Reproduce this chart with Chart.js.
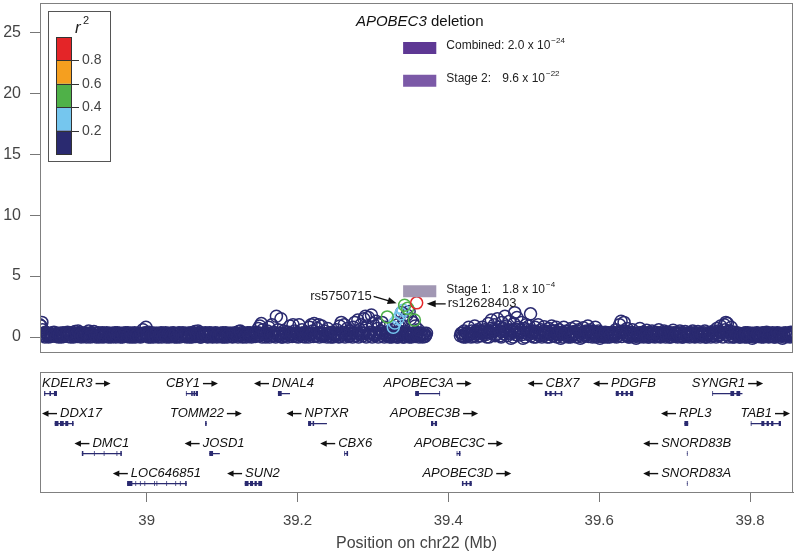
<!DOCTYPE html>
<html>
<head>
<meta charset="utf-8">
<script src="https://cdn.jsdelivr.net/npm/chart.js@4.4.0/dist/chart.umd.min.js"></script>
<style>
  html, body { margin: 0; padding: 0; background: #fff; }
  #wrap { position: relative; width: 800px; height: 554px; }
  #top { position: absolute; left: 0; top: 0; width: 800px; height: 360px; }
  #bot { position: absolute; left: 0; top: 362px; width: 800px; height: 192px; }
</style>
</head>
<body>
<div id="wrap">
  <div id="top"><canvas id="assoc"></canvas></div>
  <div id="bot"><canvas id="genes"></canvas></div>
</div>
<script>
// ---- data ----
const X_MIN = 38.8585, X_MAX = 39.857;
const yTicks = [0, 5, 10, 15, 20, 25];
const xTicks = [39, 39.2, 39.4, 39.6, 39.8];

// r2 classes, top to bottom of the colour bar
const r2Colors = ['#e42528', '#f59f1f', '#4fb148', '#75c6ee', '#2a2a70'];
const r2Breaks = ['0.8', '0.6', '0.4', '0.2'];

// [position (Mb), -log10 p]
const redSnps = [[39.358, 2.8]];
const greenSnps = [[39.319, 1.65], [39.342, 2.6], [39.346, 2.35], [39.355, 1.4]];
const blueSnps = [[39.327, 0.8], [39.329, 1.15], [39.333, 1.5], [39.337, 1.9], [39.340, 2.2]];
const navySnps = [
  [38.858,1.0],[38.860,0.9],[38.861,1.2],[38.862,0.6],[38.863,0.3],[38.864,0.1],[38.866,0.4],[38.868,0.2],
  [38.870,0.0],[38.872,0.3],[38.874,0.1],[38.876,0.35],[38.878,0.15],[38.880,0.05],[38.882,0.3],[38.884,0.2],
  [38.887,0.0],[38.889,0.35],[38.891,0.1],[38.894,0.25],[38.896,0.05],[38.898,0.3],[38.901,0.15],[38.903,0.0],
  [38.905,0.45],[38.907,0.2],[38.909,0.5],[38.912,0.1],[38.914,0.3],[38.916,0.05],[38.918,0.35],[38.921,0.2],
  [38.923,0.5],[38.925,0.0],[38.927,0.3],[38.930,0.45],[38.932,0.1],[38.934,0.3],[38.937,0.0],[38.939,0.2],
  [38.941,0.35],[38.944,0.05],[38.946,0.25],[38.948,0.1],[38.951,0.3],[38.953,0.0],[38.955,0.2],[38.958,0.35],
  [38.960,0.1],[38.962,0.25],[38.965,0.0],[38.967,0.3],[38.969,0.15],[38.972,0.35],[38.974,0.05],[38.976,0.2],
  [38.979,0.3],[38.981,0.0],[38.983,0.25],[38.986,0.1],[38.988,0.3],[38.990,0.05],[38.993,0.2],[38.995,0.6],
  [38.997,0.3],[38.999,0.8],[39.001,0.1],[39.003,0.4],[39.005,0.0],[39.008,0.25],[39.010,0.15],[39.012,0.3],
  [39.015,0.0],[39.017,0.2],[39.019,0.35],[39.022,0.1],[39.024,0.25],[39.026,0.0],[39.029,0.3],[39.031,0.15],
  [39.033,0.05],[39.036,0.3],[39.038,0.2],[39.040,0.0],[39.043,0.35],[39.045,0.1],[39.047,0.25],[39.050,0.05],
  [39.052,0.3],[39.054,0.15],[39.057,0.0],[39.059,0.25],[39.061,0.1],[39.064,0.45],[39.066,0.2],[39.068,0.5],
  [39.071,0.0],[39.073,0.3],[39.075,0.15],[39.078,0.35],[39.080,0.05],[39.082,0.2],[39.085,0.3],[39.087,0.0],
  [39.089,0.25],[39.092,0.1],[39.094,0.3],[39.096,0.05],[39.099,0.2],[39.101,0.35],[39.103,0.0],[39.106,0.25],
  [39.108,0.1],[39.110,0.3],[39.113,0.05],[39.115,0.2],[39.117,0.35],[39.120,0.1],[39.122,0.45],[39.124,0.5],
  [39.127,0.0],[39.129,0.3],[39.131,0.15],[39.134,0.35],[39.136,0.05],[39.138,0.2],[39.141,0.3],[39.143,0.1],
  [39.145,0.4],[39.148,0.7],[39.150,0.9],[39.152,1.1],[39.154,0.6],[39.156,0.3],[39.158,0.0],[39.160,0.5],
  [39.162,0.8],[39.164,0.2],[39.166,1.0],[39.168,0.4],[39.170,0.1],[39.172,1.7],[39.174,0.6],[39.176,0.3],
  [39.178,1.5],[39.180,0.0],[39.182,0.5],[39.184,0.25],[39.186,0.1],[39.188,0.4],[39.190,0.9],[39.192,0.2],
  [39.194,1.0],[39.196,0.5],[39.198,0.05],[39.200,0.3],[39.202,1.0],[39.204,0.15],[39.206,0.6],[39.208,0.35],
  [39.210,0.0],[39.212,0.4],[39.214,0.2],[39.216,0.8],[39.218,1.0],[39.220,0.5],[39.222,1.1],[39.224,0.1],
  [39.226,0.7],[39.228,1.0],[39.230,0.3],[39.232,0.9],[39.234,0.05],[39.236,0.5],[39.238,0.2],[39.240,0.7],
  [39.242,0.35],[39.244,0.0],[39.246,0.4],[39.248,0.15],[39.250,0.3],[39.252,0.6],[39.254,0.05],[39.256,0.9],
  [39.258,1.2],[39.260,0.4],[39.262,1.0],[39.264,0.2],[39.266,0.7],[39.268,0.05],[39.270,0.5],[39.272,0.3],
  [39.274,0.8],[39.276,1.2],[39.278,0.1],[39.280,1.4],[39.282,0.6],[39.284,1.0],[39.286,0.3],[39.288,1.5],
  [39.290,1.7],[39.292,0.9],[39.294,1.6],[39.296,0.4],[39.298,1.8],[39.300,1.1],[39.302,0.2],[39.304,1.3],
  [39.306,0.7],[39.308,1.0],[39.310,0.5],[39.312,1.2],[39.314,0.3],[39.316,0.8],[39.318,0.1],[39.320,0.4],
  [39.322,0.0],[39.324,0.3],[39.326,0.6],[39.328,0.1],[39.330,0.35],[39.332,0.0],[39.334,0.25],[39.336,0.1],
  [39.338,0.4],[39.340,0.0],[39.342,0.3],[39.344,0.15],[39.346,0.35],[39.348,0.0],[39.350,0.25],[39.352,0.1],
  [39.354,0.3],[39.356,0.05],[39.358,0.2],[39.360,0.35],[39.362,0.1],[39.364,0.25],[39.366,0.0],[39.368,0.3],
  [39.370,0.15],
  [39.333,1.0],[39.336,0.8],[39.338,2.0],[39.341,1.4],[39.345,1.8],[39.348,2.1],[39.350,1.5],[39.353,1.2],
  [39.356,0.9],[39.360,0.6],
  [39.417,0.3],[39.419,0.1],[39.421,0.5],[39.423,0.0],[39.425,0.35],[39.427,0.8],[39.429,0.2],[39.431,0.5],
  [39.433,0.05],[39.435,0.9],[39.437,0.3],[39.439,0.6],[39.441,0.1],[39.443,0.4],[39.445,0.8],[39.447,0.2],
  [39.449,0.5],[39.451,0.0],[39.453,1.1],[39.455,0.35],[39.457,1.4],[39.459,0.6],[39.461,1.0],[39.463,0.2],
  [39.465,1.5],[39.467,0.8],[39.469,0.1],[39.471,1.2],[39.473,0.5],[39.475,1.7],[39.477,0.9],[39.479,0.3],
  [39.481,1.3],[39.483,-0.1],[39.485,0.6],[39.487,1.1],[39.488,2.0],[39.489,0.2],[39.491,1.6],[39.493,0.8],
  [39.495,0.4],[39.497,1.2],[39.499,-0.1],[39.501,0.7],[39.503,1.0],[39.505,0.3],[39.507,0.9],[39.509,1.9],
  [39.511,0.5],[39.513,0.0],[39.515,0.8],[39.517,0.3],[39.519,1.0],[39.521,0.1],[39.523,0.6],[39.525,0.2],
  [39.527,0.85],[39.529,0.4],[39.531,0.0],[39.533,0.7],[39.535,0.3],[39.537,0.9],[39.539,0.1],[39.541,0.5],
  [39.543,0.8],[39.545,0.25],[39.547,0.6],[39.549,-0.1],[39.551,0.4],[39.553,0.8],[39.555,0.15],[39.557,0.5],
  [39.559,0.0],[39.561,0.35],[39.563,0.7],[39.565,0.1],[39.567,0.45],[39.569,0.85],[39.571,0.2],[39.573,0.6],
  [39.575,-0.1],[39.577,0.3],[39.579,0.75],[39.581,0.1],[39.583,0.5],[39.585,0.9],[39.587,0.25],[39.589,0.6],
  [39.591,0.0],[39.593,0.4],[39.595,0.8],[39.597,0.15],[39.599,0.5],[39.601,-0.1],[39.604,0.3],[39.606,0.1],
  [39.608,0.4],[39.611,0.0],[39.613,0.3],[39.615,0.15],[39.618,0.4],[39.620,0.05],[39.622,0.6],[39.625,0.3],
  [39.627,1.0],[39.629,1.3],[39.631,0.5],[39.633,1.2],[39.635,0.2],[39.637,0.7],[39.640,0.0],[39.642,0.4],
  [39.644,0.6],[39.647,0.15],[39.649,-0.1],[39.651,0.3],[39.654,0.7],[39.656,0.05],[39.658,0.4],[39.661,0.2],
  [39.663,0.55],[39.665,0.0],[39.668,0.35],[39.670,0.5],[39.672,0.1],[39.675,0.4],[39.677,0.25],[39.679,0.6],
  [39.682,0.05],[39.684,0.35],[39.686,0.5],[39.689,0.15],[39.691,0.4],[39.693,0.0],[39.696,0.3],[39.698,0.55],
  [39.700,0.1],[39.703,0.35],[39.705,0.2],[39.707,0.5],[39.710,0.0],[39.712,0.3],[39.714,0.45],[39.717,0.1],
  [39.719,0.35],[39.721,0.2],[39.724,0.5],[39.726,0.05],[39.728,0.3],[39.731,0.45],[39.733,0.1],[39.735,0.35],
  [39.738,0.2],[39.740,0.5],[39.742,0.0],[39.745,0.3],[39.747,0.4],[39.749,0.15],[39.752,0.5],[39.754,0.3],
  [39.756,0.7],[39.759,0.1],[39.761,0.9],[39.763,0.4],[39.766,1.0],[39.768,1.2],[39.770,1.1],[39.773,0.5],
  [39.775,0.8],[39.777,0.0],[39.780,0.4],[39.782,0.2],[39.784,0.3],[39.787,0.0],[39.789,0.25],[39.791,0.1],
  [39.794,0.35],[39.796,0.0],[39.798,0.2],[39.801,0.3],[39.803,-0.1],[39.805,0.25],[39.808,0.05],[39.810,0.3],
  [39.812,0.15],[39.815,0.0],[39.817,0.35],[39.819,0.2],[39.822,0.4],[39.824,0.05],[39.826,0.3],[39.829,0.1],
  [39.831,0.25],[39.833,0.0],[39.836,0.35],[39.838,0.15],[39.840,0.3],[39.843,-0.1],[39.845,0.2],[39.847,0.35],
  [39.850,0.05],[39.852,0.25],[39.854,0.4],[39.856,0.1]
];
// the dense low band of weakly associated SNPs
const navyBandSnps = [
  [38.859,0.2],[38.865,0.0],[38.867,0.3],[38.869,0.1],[38.871,0.25],[38.873,0.05],[38.875,0.2],[38.877,0.4],
  [38.879,0.1],[38.881,0.25],[38.883,0.0],[38.885,0.3],[38.886,0.1],[38.888,0.2],[38.890,0.05],[38.892,0.3],
  [38.893,0.15],[38.895,0.4],[38.897,0.2],[38.899,0.0],[38.900,0.35],[38.902,0.25],[38.904,0.1],[38.906,0.3],
  [38.908,0.05],[38.910,0.25],[38.911,0.35],[38.913,0.0],[38.915,0.2],[38.917,0.1],[38.919,0.3],[38.920,0.0],
  [38.922,0.25],[38.924,0.15],[38.926,0.35],[38.928,0.05],[38.929,0.2],[38.931,0.3],[38.933,0.0],[38.935,0.15],
  [38.936,0.35],[38.938,0.1],[38.940,0.25],[38.942,0.0],[38.943,0.3],[38.945,0.15],[38.947,0.35],[38.949,0.0],
  [38.950,0.2],[38.952,0.1],[38.954,0.3],[38.956,0.05],[38.957,0.25],[38.959,0.0],[38.961,0.35],[38.963,0.1],
  [38.964,0.3],[38.966,0.2],[38.968,0.0],[38.970,0.3],[38.971,0.1],[38.973,0.2],[38.975,0.35],[38.977,0.0],
  [38.978,0.15],[38.980,0.3],[38.982,0.1],[38.984,0.35],[38.985,0.0],[38.987,0.2],[38.989,0.1],[38.991,0.3],
  [38.992,0.0],[38.994,0.25],[38.996,0.1],[38.998,0.35],[39.000,0.2],[39.002,0.0],[39.004,0.3],[39.006,0.15],
  [39.007,0.35],[39.009,0.0],[39.011,0.25],[39.013,0.1],[39.014,0.3],[39.016,0.05],[39.018,0.2],[39.020,0.0],
  [39.021,0.3],[39.023,0.15],[39.025,0.35],[39.027,0.1],[39.028,0.2],[39.030,0.0],[39.032,0.3],[39.034,0.15],
  [39.035,0.35],[39.037,0.0],[39.039,0.25],[39.041,0.1],[39.042,0.3],[39.044,0.0],[39.046,0.2],[39.048,0.35],
  [39.049,0.1],[39.051,0.25],[39.053,0.0],[39.055,0.3],[39.056,0.1],[39.058,0.35],[39.060,0.0],[39.062,0.2],
  [39.063,0.3],[39.065,0.05],[39.067,0.25],[39.069,0.1],[39.070,0.35],[39.072,0.0],[39.074,0.2],[39.076,0.3],
  [39.077,0.1],[39.079,0.25],[39.081,0.0],[39.083,0.35],[39.084,0.15],[39.086,0.3],[39.088,0.05],[39.090,0.2],
  [39.091,0.35],[39.093,0.0],[39.095,0.25],[39.097,0.15],[39.098,0.3],[39.100,0.0],[39.102,0.2],[39.104,0.1],
  [39.105,0.35],[39.107,0.0],[39.109,0.25],[39.111,0.15],[39.112,0.3],[39.114,0.0],[39.116,0.2],[39.118,0.1],
  [39.119,0.3],[39.121,0.0],[39.123,0.25],[39.125,0.15],[39.126,0.35],[39.128,0.05],[39.130,0.2],[39.132,0.0],
  [39.133,0.3],[39.135,0.1],[39.137,0.35],[39.139,0.0],[39.140,0.2],[39.142,0.3],[39.144,0.05],[39.146,0.2],
  [39.147,0.35],[39.149,0.1],[39.151,0.3],[39.153,0.0],[39.155,0.2],[39.157,0.35],[39.159,0.1],[39.161,0.25],
  [39.163,0.0],[39.165,0.3],[39.167,0.15],[39.169,0.35],[39.171,0.0],[39.173,0.2],[39.175,0.1],[39.177,0.3],
  [39.179,0.0],[39.181,0.25],[39.183,0.1],[39.185,0.35],[39.187,0.0],[39.189,0.2],[39.191,0.3],[39.193,0.05],
  [39.195,0.25],[39.197,0.15],[39.199,0.35],[39.201,0.0],[39.203,0.2],[39.205,0.3],[39.207,0.05],[39.209,0.25],
  [39.211,0.15],[39.213,0.35],[39.215,0.0],[39.217,0.2],[39.219,0.3],[39.221,0.05],[39.223,0.25],[39.225,0.1],
  [39.227,0.35],[39.229,0.0],[39.231,0.2],[39.233,0.3],[39.235,0.1],[39.237,0.25],[39.239,0.0],[39.241,0.3],
  [39.243,0.15],[39.245,0.35],[39.247,0.0],[39.249,0.2],[39.251,0.1],[39.253,0.3],[39.255,0.0],[39.257,0.25],
  [39.259,0.15],[39.261,0.35],[39.263,0.0],[39.265,0.2],[39.267,0.3],[39.269,0.1],[39.271,0.25],[39.273,0.0],
  [39.275,0.35],[39.277,0.15],[39.279,0.3],[39.281,0.0],[39.283,0.2],[39.285,0.35],[39.287,0.1],[39.289,0.3],
  [39.291,0.0],[39.293,0.25],[39.295,0.15],[39.297,0.35],[39.299,0.0],[39.301,0.3],[39.303,0.1],[39.305,0.25],
  [39.307,0.0],[39.309,0.35],[39.311,0.15],[39.313,0.3],[39.315,0.0],[39.317,0.2],[39.319,0.1],[39.321,0.3],
  [39.323,0.15],[39.325,0.0],[39.327,0.25],[39.329,0.1],[39.331,0.3],[39.333,0.0],[39.335,0.2],[39.337,0.15],
  [39.339,0.3],[39.341,0.0],[39.343,0.25],[39.345,0.1],[39.347,0.2],[39.349,0.3],[39.351,0.0],[39.353,0.2],
  [39.355,0.35],[39.357,0.1],[39.359,0.25],[39.361,0.0],[39.363,0.3],[39.365,0.15],[39.367,0.2],[39.369,0.05],
  [39.371,0.3],
  [39.416,0.1],[39.418,0.3],[39.420,0.0],[39.422,0.2],[39.424,0.35],[39.426,0.1],[39.428,0.25],[39.430,0.0],
  [39.432,0.3],[39.434,0.15],[39.436,0.45],[39.438,0.0],[39.440,0.3],[39.442,0.5],[39.444,0.1],[39.446,0.35],
  [39.448,0.6],[39.450,0.2],[39.452,0.4],[39.454,0.0],[39.456,0.7],[39.458,0.3],[39.460,0.5],[39.462,0.1],
  [39.464,0.6],[39.466,0.3],[39.468,0.5],[39.470,0.0],[39.472,0.7],[39.474,0.25],[39.476,0.45],[39.478,0.1],
  [39.480,0.6],[39.482,0.3],[39.484,0.5],[39.486,0.0],[39.488,0.4],[39.490,0.6],[39.492,0.15],[39.494,0.35],
  [39.496,0.55],[39.498,0.2],[39.500,0.4],[39.502,0.0],[39.504,0.6],[39.506,0.2],[39.508,0.45],[39.510,0.1],
  [39.512,0.3],[39.514,0.5],[39.516,0.0],[39.518,0.4],[39.520,0.2],[39.522,0.35],[39.524,0.0],[39.526,0.5],
  [39.528,0.15],[39.530,0.3],[39.532,0.45],[39.534,0.0],[39.536,0.25],[39.538,0.5],[39.540,0.1],[39.542,0.3],
  [39.544,0.0],[39.546,0.4],[39.548,0.2],[39.550,0.35],[39.552,0.0],[39.554,0.3],[39.556,0.45],[39.558,0.1],
  [39.560,0.25],[39.562,0.0],[39.564,0.4],[39.566,0.2],[39.568,0.3],[39.570,0.0],[39.572,0.45],[39.574,0.15],
  [39.576,0.3],[39.578,0.0],[39.580,0.4],[39.582,0.2],[39.584,0.35],[39.586,0.05],[39.588,0.3],[39.590,0.45],
  [39.592,0.1],[39.594,0.25],[39.596,0.0],[39.598,0.35],[39.600,0.2],[39.602,0.4],[39.603,0.05],[39.605,0.25],
  [39.607,0.0],[39.609,0.3],[39.610,0.15],[39.612,0.35],[39.614,0.0],[39.616,0.2],[39.617,0.3],[39.619,0.1],
  [39.621,0.25],[39.623,0.0],[39.624,0.35],[39.626,0.15],[39.628,0.4],[39.630,0.05],[39.632,0.3],[39.634,0.5],
  [39.636,0.1],[39.638,0.3],[39.639,0.0],[39.641,0.25],[39.643,0.1],[39.645,0.35],[39.646,0.0],[39.648,0.3],
  [39.650,0.15],[39.652,0.0],[39.653,0.35],[39.655,0.2],[39.657,0.3],[39.659,0.0],[39.660,0.25],[39.662,0.1],
  [39.664,0.35],[39.666,0.0],[39.667,0.2],[39.669,0.3],[39.671,0.05],[39.673,0.25],[39.674,0.0],[39.676,0.35],
  [39.678,0.1],[39.680,0.3],[39.681,0.0],[39.683,0.2],[39.685,0.1],[39.687,0.35],[39.688,0.0],[39.690,0.25],
  [39.692,0.15],[39.694,0.3],[39.695,0.0],[39.697,0.2],[39.699,0.35],[39.701,0.05],[39.702,0.25],[39.704,0.0],
  [39.706,0.3],[39.708,0.1],[39.709,0.35],[39.711,0.0],[39.713,0.2],[39.715,0.3],[39.716,0.05],[39.718,0.25],
  [39.720,0.0],[39.722,0.35],[39.723,0.1],[39.725,0.3],[39.727,0.0],[39.729,0.2],[39.730,0.1],[39.732,0.3],
  [39.734,0.0],[39.736,0.25],[39.737,0.1],[39.739,0.35],[39.741,0.0],[39.743,0.2],[39.744,0.15],[39.746,0.3],
  [39.748,0.0],[39.750,0.25],[39.751,0.1],[39.753,0.35],[39.755,0.0],[39.757,0.3],[39.758,0.5],[39.760,0.2],
  [39.762,0.4],[39.764,0.0],[39.765,0.3],[39.767,0.6],[39.769,0.2],[39.771,0.4],[39.772,0.0],[39.774,0.3],
  [39.776,0.15],[39.778,0.35],[39.779,0.0],[39.781,0.2],[39.783,0.1],[39.785,0.3],[39.786,0.0],[39.788,0.25],
  [39.790,0.1],[39.792,0.3],[39.793,0.0],[39.795,0.2],[39.797,0.35],[39.799,0.05],[39.800,0.25],[39.802,0.1],
  [39.804,0.3],[39.806,0.0],[39.807,0.2],[39.809,0.35],[39.811,0.05],[39.813,0.25],[39.814,0.1],[39.816,0.3],
  [39.818,0.0],[39.820,0.2],[39.821,0.1],[39.823,0.3],[39.825,0.0],[39.827,0.25],[39.828,0.1],[39.830,0.35],
  [39.832,0.0],[39.834,0.2],[39.835,0.1],[39.837,0.3],[39.839,0.0],[39.841,0.25],[39.842,0.1],[39.844,0.3],
  [39.846,0.0],[39.848,0.2],[39.849,0.1],[39.851,0.3],[39.853,0.0],[39.855,0.2],[39.857,0.3]
];

// labelled SNPs: [name, position, -log10 p]
const labelledSnps = [['rs5750715', 39.342, 2.6], ['rs12628403', 39.358, 2.8]];

// APOBEC3 deletion association
const DEL_START = 39.340, DEL_END = 39.384;
const delStages = ['Combined:', 'Stage 2:', 'Stage 1:'];
const delMantissa = ['2.0', '9.6', '1.8'];
const delExponent = [-24, -22, -4];
const delColors = ['#5e3894', '#7b59a7', '#a197b3'];

// genes
const geneNames = ['KDELR3','CBY1','DNAL4','APOBEC3A','CBX7','PDGFB','SYNGR1',
  'DDX17','TOMM22','NPTXR','APOBEC3B','RPL3','TAB1',
  'DMC1','JOSD1','CBX6','APOBEC3C','SNORD83B',
  'LOC646851','SUN2','APOBEC3D','SNORD83A'];
const geneStrand = ['+','+','-','+','-','-','+', '-','+','-','+','-','+', '-','-','-','+','-', '-','-','+','-'];
const geneRow = [0,0,0,0,0,0,0, 1,1,1,1,1,1, 2,2,2,2,2, 3,3,3,3];
const geneStart = [38.864,39.052,39.174,39.356,39.528,39.622,39.750, 38.878,39.0775,39.214,39.377,39.713,39.801,
  38.914,39.083,39.262,39.411,39.7163, 38.974,39.130,39.418,39.7163];
const geneEnd = [38.881,39.068,39.190,39.389,39.551,39.645,39.790, 38.903,39.0795,39.239,39.385,39.718,39.841,
  38.967,39.097,39.267,39.416,39.7172, 39.053,39.153,39.431,39.7172];
const geneExons = [
  [[38.864,38.8655],[38.871,38.873],[38.877,38.881]],
  [[39.052,39.053],[39.059,39.061],[39.062,39.064],[39.065,39.068]],
  [[39.174,39.179],[39.189,39.190]],
  [[39.356,39.361],[39.388,39.389]],
  [[39.528,39.531],[39.534,39.537],[39.541,39.543],[39.549,39.551]],
  [[39.622,39.626],[39.629,39.632],[39.635,39.638],[39.641,39.645]],
  [[39.750,39.751],[39.763,39.764],[39.774,39.779],[39.782,39.787]],
  [[38.878,38.883],[38.885,38.890],[38.892,38.896],[38.901,38.903]],
  [[39.0775,39.0795]],
  [[39.214,39.218],[39.220,39.222],[39.238,39.239]],
  [[39.377,39.380],[39.382,39.385]],
  [[39.713,39.718]],
  [[39.801,39.802],[39.815,39.819],[39.822,39.825],[39.828,39.831],[39.838,39.841]],
  [[38.914,38.916],[38.930,38.931],[38.943,38.944],[38.950,38.951],[38.954,38.955],[38.960,38.961],[38.965,38.967]],
  [[39.083,39.088],[39.096,39.097]],
  [[39.262,39.263],[39.265,39.267]],
  [[39.411,39.412],[39.414,39.416]],
  [[39.7163,39.7172]],
  [[38.974,38.981],[38.985,38.986],[38.991,38.992],[38.997,38.998],[39.010,39.011],[39.013,39.014],
   [39.019,39.020],[39.026,39.027],[39.031,39.032],[39.038,39.039],[39.044,39.045],[39.051,39.053]],
  [[39.130,39.135],[39.137,39.141],[39.143,39.146],[39.148,39.153]],
  [[39.418,39.420],[39.423,39.425],[39.428,39.431]],
  [[39.7163,39.7172]]
];

// ---- drawing ----
const FONT = "'Liberation Sans', Arial, sans-serif";
const NAVY = r2Colors[4];
const ROW_OFF = 0.72;

const toXY = arr => arr.map(([x, y]) => ({ x, y }));
const delLogP = delMantissa.map((m, i) => -Math.log10(parseFloat(m)) - delExponent[i]);

function snpSet(arr, color) {
  return {
    data: toXY(arr), pointRadius: 6, pointHoverRadius: 6, pointBorderWidth: 1.5,
    pointBorderColor: color, pointBackgroundColor: 'rgba(255,255,255,0)'
  };
}

function arrowHead(ctx, x0, y0, x1, y1, len, half) {
  const ang = Math.atan2(y1 - y0, x1 - x0);
  ctx.beginPath();
  ctx.moveTo(x0, y0);
  ctx.lineTo(x1 - Math.cos(ang) * len * 0.6, y1 - Math.sin(ang) * len * 0.6);
  ctx.stroke();
  ctx.beginPath();
  ctx.moveTo(x1, y1);
  ctx.lineTo(x1 - Math.cos(ang) * len - Math.sin(ang) * half, y1 - Math.sin(ang) * len + Math.cos(ang) * half);
  ctx.lineTo(x1 - Math.cos(ang) * len + Math.sin(ang) * half, y1 - Math.sin(ang) * len - Math.cos(ang) * half);
  ctx.closePath();
  ctx.fill();
}

// strip the label overhang padding so the plot box sits where we put it
function fixAxis(size) {
  return s => {
    if (s.isHorizontal()) s.height = size; else s.width = size;
    s.paddingTop = 0; s.paddingBottom = 0; s.paddingLeft = 0; s.paddingRight = 0;
  };
}

const frame = {
  id: 'frame',
  afterDraw(chart) {
    const { ctx, chartArea: a } = chart;
    ctx.save();
    ctx.strokeStyle = '#808080';
    ctx.lineWidth = 1;
    ctx.strokeRect(Math.round(a.left) + 0.5, Math.round(a.top) + 0.5, Math.round(a.right - a.left) - 1, Math.round(a.bottom - a.top));
    ctx.restore();
  }
};

const r2Legend = {
  id: 'r2Legend',
  afterDatasetsDraw(chart) {
    const { ctx, chartArea: a } = chart;
    const bx = a.left + 8, by = a.top + 8;
    ctx.save();
    ctx.fillStyle = '#fff';
    ctx.fillRect(bx, by, 62, 150);
    ctx.strokeStyle = '#555';
    ctx.lineWidth = 1;
    ctx.strokeRect(bx + 0.5, by + 0.5, 62, 150);
    const barX = bx + 8, barTop = by + 26, segH = 23.4;
    r2Colors.forEach((c, i) => {
      ctx.fillStyle = c;
      ctx.fillRect(barX, barTop + i * segH, 15, segH);
    });
    ctx.strokeStyle = '#333';
    ctx.strokeRect(barX + 0.5, barTop + 0.5, 15, segH * 5);
    ctx.font = `14px ${FONT}`;
    ctx.fillStyle = '#444';
    ctx.textBaseline = 'middle';
    r2Breaks.forEach((t, i) => {
      const yy = Math.round(barTop + (i + 1) * segH) + 0.5;
      ctx.beginPath();
      ctx.moveTo(barX, yy);
      ctx.lineTo(barX + 23, yy);
      ctx.stroke();
      ctx.fillText(t, barX + 26, yy);
    });
    ctx.fillStyle = '#222';
    ctx.font = `italic 17px ${FONT}`;
    ctx.fillText('r', bx + 27, by + 17);
    ctx.font = `11px ${FONT}`;
    ctx.fillText('2', bx + 35, by + 10);
    ctx.restore();
  }
};

const annotations = {
  id: 'annotations',
  afterDatasetsDraw(chart) {
    const { ctx, scales: { x, y } } = chart;
    ctx.save();
    // title centred over the deletion
    const cx = (x.getPixelForValue(DEL_START) + x.getPixelForValue(DEL_END)) / 2;
    ctx.textBaseline = 'middle';
    ctx.fillStyle = '#111';
    ctx.font = `italic 15px ${FONT}`;
    const w1 = ctx.measureText('APOBEC3').width;
    ctx.font = `15px ${FONT}`;
    const w2 = ctx.measureText(' deletion').width;
    const tx = cx - (w1 + w2) / 2;
    ctx.font = `italic 15px ${FONT}`;
    ctx.fillText('APOBEC3', tx, 22);
    ctx.font = `15px ${FONT}`;
    ctx.fillText(' deletion', tx + w1, 22);

    // stage p-values
    const tabs = [null, 56, 56];
    delStages.forEach((s, i) => {
      const lx = x.getPixelForValue(DEL_END) + 10;
      const ly = y.getPixelForValue(delLogP[i]) - 2;
      ctx.font = `12px ${FONT}`;
      ctx.fillStyle = '#222';
      ctx.fillText(s, lx, ly);
      const vx = tabs[i] === null ? lx + ctx.measureText(s + ' ').width : lx + tabs[i];
      const val = delMantissa[i] + ' x 10';
      ctx.fillText(val, vx, ly);
      const ex = vx + ctx.measureText(val).width + 1;
      ctx.font = `8px ${FONT}`;
      ctx.fillText('\u2212' + Math.abs(delExponent[i]), ex, ly - 5);
    });

    // labelled SNPs with arrows
    ctx.font = `13px ${FONT}`;
    ctx.strokeStyle = '#111';
    ctx.lineWidth = 1.3;
    const [a, b] = labelledSnps;
    let px = x.getPixelForValue(a[1]), py = y.getPixelForValue(a[2]);
    ctx.textAlign = 'right';
    ctx.fillStyle = '#222';
    ctx.fillText(a[0], px - 33, py - 9);
    ctx.fillStyle = '#111';
    arrowHead(ctx, px - 31, py - 9, px - 8, py - 2, 9, 3.5);
    px = x.getPixelForValue(b[1]); py = y.getPixelForValue(b[2]);
    ctx.textAlign = 'left';
    ctx.fillStyle = '#222';
    ctx.fillText(b[0], px + 31, py + 1);
    ctx.fillStyle = '#111';
    arrowHead(ctx, px + 29, py + 1, px + 10, py + 1, 9, 3.5);
    ctx.restore();
  }
};

function geneArrow(ctx, x0, x1, yy) {
  const dir = Math.sign(x1 - x0);
  ctx.lineWidth = 1.4;
  ctx.beginPath();
  ctx.moveTo(x0, yy);
  ctx.lineTo(x1 - dir * 4, yy);
  ctx.stroke();
  ctx.beginPath();
  ctx.moveTo(x1, yy);
  ctx.lineTo(x1 - dir * 6.5, yy - 3.2);
  ctx.lineTo(x1 - dir * 6.5, yy + 3.2);
  ctx.closePath();
  ctx.fill();
}

const geneLabels = {
  id: 'geneLabels',
  afterDatasetsDraw(chart) {
    const { ctx, chartArea: a, scales: { x, y } } = chart;
    ctx.save();
    ctx.font = `italic 13px ${FONT}`;
    ctx.fillStyle = '#111';
    ctx.strokeStyle = '#111';
    ctx.textBaseline = 'middle';
    geneNames.forEach((name, i) => {
      const tw = ctx.measureText(name).width;
      const w = tw + 18;
      const cx = (x.getPixelForValue(geneStart[i]) + x.getPixelForValue(geneEnd[i])) / 2;
      const left = Math.min(Math.max(cx - w / 2, a.left + 2), a.right - 3 - w);
      const ly = y.getPixelForValue(geneRow[i] + ROW_OFF) - 10;
      if (geneStrand[i] === '+') {
        ctx.fillText(name, left, ly);
        geneArrow(ctx, left + tw + 3, left + w, ly);
      } else {
        geneArrow(ctx, left + 15, left, ly);
        ctx.fillText(name, left + 18, ly);
      }
    });
    ctx.restore();
  }
};

// top panel: association
new Chart(document.getElementById('assoc'), {
  type: 'scatter',
  data: {
    datasets: [
      ...delStages.map((s, i) => ({
        type: 'line', data: [{ x: DEL_START, y: delLogP[i] }, { x: DEL_END, y: delLogP[i] }],
        borderColor: delColors[i], borderWidth: 12, borderCapStyle: 'butt', pointRadius: 0
      })),
      snpSet(redSnps, r2Colors[0]),
      snpSet(greenSnps, r2Colors[2]),
      snpSet(blueSnps, r2Colors[3]),
      snpSet(navySnps, NAVY),
      snpSet(navyBandSnps, NAVY)
    ]
  },
  options: {
    responsive: true, maintainAspectRatio: false, animation: false,
    layout: { autoPadding: false, padding: { top: 3, right: 7, bottom: 8, left: 0 } },
    plugins: { legend: { display: false }, tooltip: { enabled: false } },
    scales: {
      x: { type: 'linear', display: false, min: X_MIN, max: X_MAX },
      y: {
        min: -1.23, max: 27.4,
        afterFit: fixAxis(40),
        afterBuildTicks: s => { s.ticks = yTicks.map(v => ({ value: v })); },
        grid: { drawOnChartArea: false, tickLength: 10, color: '#777' },
        border: { color: '#808080' },
        ticks: { font: { size: 16, family: FONT }, color: '#444', padding: 9 }
      }
    }
  },
  plugins: [frame, r2Legend, annotations]
});

// bottom panel: genes
const intronData = [], exonData = [];
geneNames.forEach((n, i) => {
  const yv = geneRow[i] + ROW_OFF;
  intronData.push({ x: geneStart[i], y: yv }, { x: geneEnd[i], y: yv }, { x: geneEnd[i], y: null });
  geneExons[i].forEach(([s, e]) => {
    exonData.push({ x: s, y: yv }, { x: e, y: yv }, { x: e, y: null });
  });
});

new Chart(document.getElementById('genes'), {
  type: 'scatter',
  data: {
    datasets: [
      { type: 'line', data: exonData, borderColor: NAVY, borderWidth: 5, borderCapStyle: 'butt', pointRadius: 0, spanGaps: false },
      { type: 'line', data: intronData, borderColor: NAVY, borderWidth: 1.2, borderCapStyle: 'butt', pointRadius: 0, spanGaps: false }
    ]
  },
  options: {
    responsive: true, maintainAspectRatio: false, animation: false,
    layout: { autoPadding: false, padding: { top: 10, right: 7, bottom: 0, left: 40 } },
    plugins: { legend: { display: false }, tooltip: { enabled: false } },
    scales: {
      x: {
        type: 'linear', min: X_MIN, max: X_MAX,
        afterFit: fixAxis(62),
        afterBuildTicks: s => { s.ticks = xTicks.map(v => ({ value: v })); },
        grid: { drawOnChartArea: false, tickLength: 10, color: '#777' },
        border: { color: '#808080' },
        ticks: { font: { size: 15, family: FONT }, color: '#444', padding: 10, maxRotation: 0, callback: v => String(v) },
        title: { display: true, text: 'Position on chr22 (Mb)', font: { size: 16, family: FONT }, color: '#444', padding: { top: 0, bottom: 1 } }
      },
      y: { display: false, min: 0, max: 4, reverse: true }
    }
  },
  plugins: [frame, geneLabels]
});
</script>
</body>
</html>
